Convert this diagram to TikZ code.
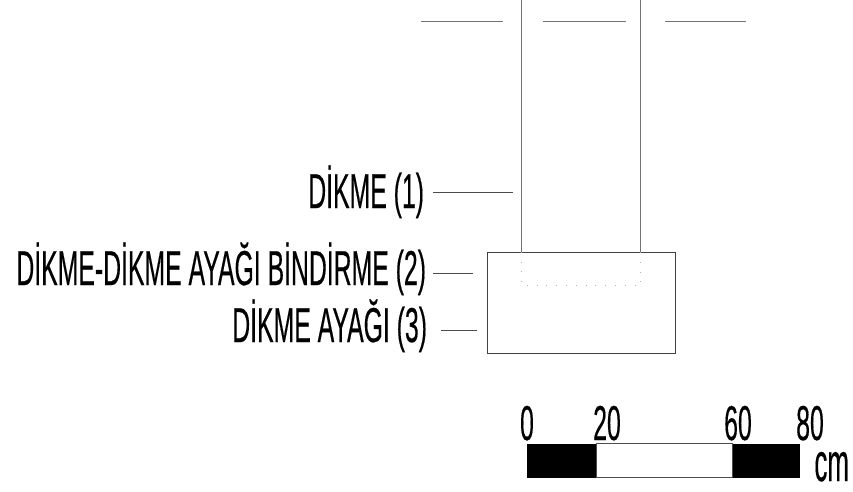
\documentclass[tikz,border=0pt]{standalone}
\usepackage{fontspec}
\setmainfont{Liberation Sans}[FakeBold=0.5]
\newcommand{\condensed}[1]{\scalebox{0.506}[1]{\fontsize{49}{49}\selectfont #1}}
\newcommand{\unitlabel}[1]{\scalebox{0.48}[1]{\fontsize{54}{54}\selectfont #1}}
\tikzset{
  lab/.style={anchor=base east,inner sep=0pt,outer sep=0pt,text=black},
  num/.style={anchor=base,inner sep=0pt,outer sep=0pt,text=black},
  thin line/.style={draw=black!55,line width=0.9pt},
  leader/.style={draw=black!70,line width=0.9pt},
  frame/.style={draw=black!75,line width=1.1pt},
  dotted hidden/.style={draw=black!30,line width=0.8pt,dash pattern=on 0.8pt off 9pt},
}
\begin{document}
\begin{tikzpicture}[x=1pt,y=-1pt]
\useasboundingbox (0,0) rectangle (853,491);
% top cut line
\coordinate (t1a) at (421,21); \coordinate (t1b) at (503,21);
\coordinate (t2a) at (543,21); \coordinate (t2b) at (626,21);
\coordinate (t3a) at (665,21); \coordinate (t3b) at (746,21);
\draw[thin line] (t1a) -- (t1b);
\draw[thin line] (t2a) -- (t2b);
\draw[thin line] (t3a) -- (t3b);
% footing
\node[frame,minimum width=188pt,minimum height=101.6pt,inner sep=0pt,anchor=north west] (foot) at (487.3,251.7) {};
% posts
\coordinate (p1top) at (521.5,0); \coordinate (p2top) at (640.7,0);
\coordinate (p1bot) at (521.5,251.7); \coordinate (p2bot) at (640.7,251.7);
\draw[thin line] (p1top) -- (p1bot);
\draw[thin line] (p2top) -- (p2bot);
% hidden part
\coordinate (h1) at (521.5,285.7); \coordinate (h2) at (640.7,285.7);
\draw[dotted hidden] (p1bot) -- (h1) -- (h2) -- (p2bot);
% labels
\node[lab] (l1) at (424,208) {\condensed{DİKME (1)}};
\node[lab] (l2) at (426,285) {\condensed{DİKME-DİKME AYAĞI BİNDİRME (2)}};
\node[lab] (l3) at (427,342) {\condensed{DİKME AYAĞI (3)}};
% leaders
\coordinate (e1a) at (433,192.7); \coordinate (e1b) at (513,192.7);
\coordinate (e2a) at (433,273); \coordinate (e2b) at (473,273);
\coordinate (e3a) at (441,330); \coordinate (e3b) at (477,330);
\draw[leader] (e1a) -- (e1b);
\draw[leader] (e2a) -- (e2b);
\draw[leader] (e3a) -- (e3b);
% scale bar
\fill[black] (527.3,443.5) rectangle (596.5,477.5);
\fill[black] (732,443.5) rectangle (800,477.5);
\draw[black!70,line width=0.8pt] (596.5,443.8) rectangle (732,477.2);
% scale text
\node[num] (n0) at (527,440) {\condensed{0}};
\node[num] (n20) at (607,440) {\condensed{20}};
\node[num] (n60) at (738,440) {\condensed{60}};
\node[num] (n80) at (810,440) {\condensed{80}};
\node[lab] (cm) at (849,481) {\unitlabel{cm}};
\end{tikzpicture}
\end{document}
